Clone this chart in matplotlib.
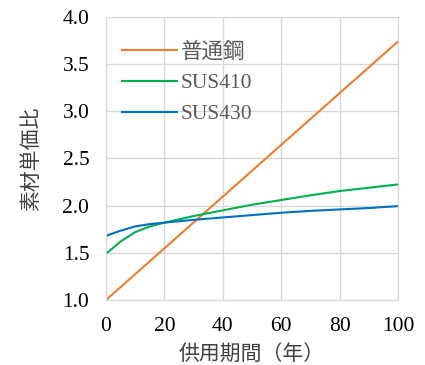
import matplotlib
matplotlib.use("Agg")
import matplotlib.pyplot as plt

# 供用期間（年）ごとの素材単価比
years = [0, 5, 10, 15, 20, 30, 40, 50, 60, 70, 80, 90, 100]
steel = [1.00, 1.137, 1.274, 1.411, 1.548, 1.822, 2.096, 2.37, 2.644, 2.918, 3.192, 3.466, 3.74]
sus410 = [1.49, 1.62, 1.72, 1.78, 1.82, 1.89, 1.95, 2.01, 2.06, 2.11, 2.155, 2.19, 2.225]
sus430 = [1.68, 1.735, 1.78, 1.805, 1.82, 1.85, 1.875, 1.90, 1.925, 1.945, 1.96, 1.975, 1.995]

labels = ["普通鋼", "SUS410", "SUS430"]
colors = ["#ED7D31", "#00B050", "#0070C0"]

serif = ["Liberation Serif", "DejaVu Serif"]
jp = ["Noto Sans CJK JP", "DejaVu Sans"]

fig = plt.figure(figsize=(4.25, 3.65), dpi=100)
ax = fig.add_axes([0.2494, 0.178, 0.6871, 0.7756])

for ys, lab, c in zip([steel, sus410, sus430], labels, colors):
    ax.plot(years, ys, color=c, linewidth=1.5, label=lab)

ax.set_xlim(0, 100)
ax.set_ylim(1.0, 4.0)
ax.set_xticks([0, 20, 40, 60, 80, 100])
ax.set_yticks([1.0, 1.5, 2.0, 2.5, 3.0, 3.5, 4.0])
ax.set_yticklabels([f"{v:.1f}" for v in ax.get_yticks()])
ax.grid(True, color="#D9D9D9", linewidth=1.0)
ax.set_axisbelow(True)
for side in ax.spines.values():
    side.set_color("#D9D9D9")
ax.tick_params(length=0, pad=12, labelsize=15.5)
for t in ax.get_xticklabels() + ax.get_yticklabels():
    t.set_fontfamily(serif)

ax.set_xlabel("供用期間（年）", fontsize=15, family=jp, color="#404040", labelpad=6)
ax.set_ylabel("素材単価比", fontsize=15, family=jp, color="#404040", labelpad=15)

leg = ax.legend(loc="upper left", bbox_to_anchor=(-0.012, 0.985), frameon=False,
                handlelength=2.55, handletextpad=0.2, labelspacing=0.5,
                prop={"family": serif + ["Noto Sans CJK JP"], "size": 15.5})
for t in leg.get_texts():
    t.set_color("#595959")
leg.get_texts()[0].set_fontfamily(jp)

fig.savefig("out.png", dpi=100)
